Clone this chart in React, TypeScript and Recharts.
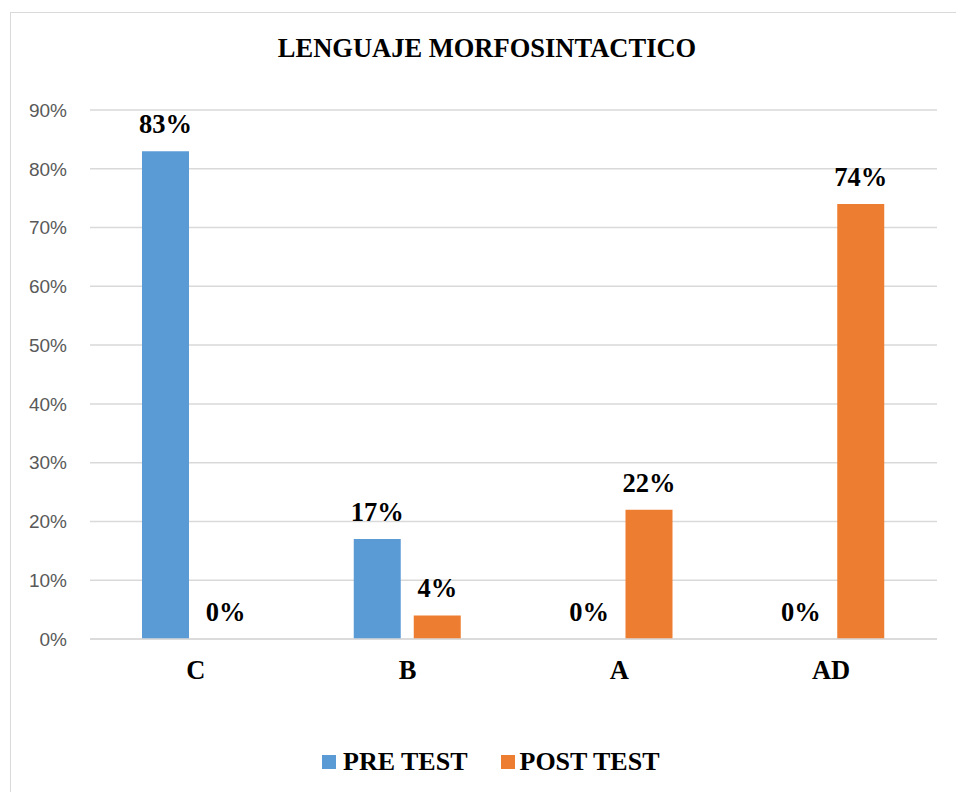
import React from 'react'
import { BarChart, Bar, XAxis, YAxis, CartesianGrid } from 'recharts'

// ─── Data ───
const CATEGORIES = ['C', 'B', 'A', 'AD']
const PRE_TEST = [83, 17, 0, 0]
const POST_TEST = [0, 4, 22, 74]
const Y_TICKS = [0, 10, 20, 30, 40, 50, 60, 70, 80, 90]

const BLUE = '#5B9BD5'
const ORANGE = '#ED7D31'
const GRID = '#D9D9D9'
const SERIF = '"Liberation Serif", "Times New Roman", serif'

const data = CATEGORIES.map((cat, i) => ({
  cat,
  pre: PRE_TEST[i],
  post: POST_TEST[i],
}))

// Bold value label sitting above each bar
const renderValue = (props: any) => {
  const { x, y, width, value } = props
  return (
    <text
      x={Number(x) + Number(width) / 2}
      y={Number(y) - 18}
      textAnchor="middle"
      fontFamily={SERIF}
      fontWeight="bold"
      fontSize={26.5}
      fill="#000"
    >
      {value}%
    </text>
  )
}

// zero bars get skipped otherwise, and then their "0%" label is lost too
const keepZero = (v: number) => (v === 0 ? 0.01 : 0)

export default function App() {
  return (
    <div style={{ position: 'absolute', left: 0, top: 0, width: 956, height: 792, overflow: 'hidden', background: '#fff' }}>
      <div style={{ position: 'absolute', left: 10, top: 12, width: 980, height: 820, border: `1.5px solid ${GRID}` }} />
      <div
        style={{
          position: 'absolute',
          left: 0,
          width: 974,
          top: 35,
          textAlign: 'center',
          fontFamily: SERIF,
          fontWeight: 'bold',
          fontSize: 26.5,
          lineHeight: '26px',
          color: '#000',
        }}
      >
        LENGUAJE MORFOSINTACTICO
      </div>
      <BarChart
        width={956}
        height={792}
        data={data}
        margin={{ top: 110, right: 19, bottom: 123, left: 20 }}
        barSize={47}
        barGap={13}
        style={{ position: 'absolute', left: 0, top: 0 }}
      >
        <CartesianGrid vertical={false} stroke={GRID} strokeWidth={1.5} />
        <XAxis
          dataKey="cat"
          height={30}
          axisLine={{ stroke: GRID, strokeWidth: 1.5 }}
          tickLine={false}
          tickSize={0}
          tickMargin={21}
          tick={{ fontFamily: SERIF, fontWeight: 'bold', fontSize: 26.5, fill: '#000' }}
        />
        <YAxis
          width={70}
          domain={[0, 90]}
          ticks={Y_TICKS}
          axisLine={false}
          tickLine={false}
          tickSize={6}
          tickMargin={17}
          tickFormatter={(v: number) => `${v}%`}
          tick={{ fontFamily: '"Liberation Sans", Arial, sans-serif', fontSize: 19, fill: '#595959' }}
        />
        <Bar
          dataKey="pre"
          name="PRE TEST"
          fill={BLUE}
          isAnimationActive={false}
          minPointSize={keepZero}
          label={renderValue}
        />
        <Bar
          dataKey="post"
          name="POST TEST"
          fill={ORANGE}
          isAnimationActive={false}
          minPointSize={keepZero}
          label={renderValue}
        />
      </BarChart>
      <div
        style={{
          position: 'absolute',
          left: 322,
          top: 747,
          display: 'flex',
          alignItems: 'center',
          fontFamily: SERIF,
          fontWeight: 'bold',
          fontSize: 26,
          color: '#000',
          lineHeight: '30px',
        }}
      >
        <span style={{ width: 14, height: 14, background: BLUE, display: 'inline-block' }} />
        <span style={{ marginLeft: 7 }}>PRE TEST</span>
        <span style={{ width: 14, height: 14, background: ORANGE, display: 'inline-block', marginLeft: 33 }} />
        <span style={{ marginLeft: 5 }}>POST TEST</span>
      </div>
    </div>
  )
}
